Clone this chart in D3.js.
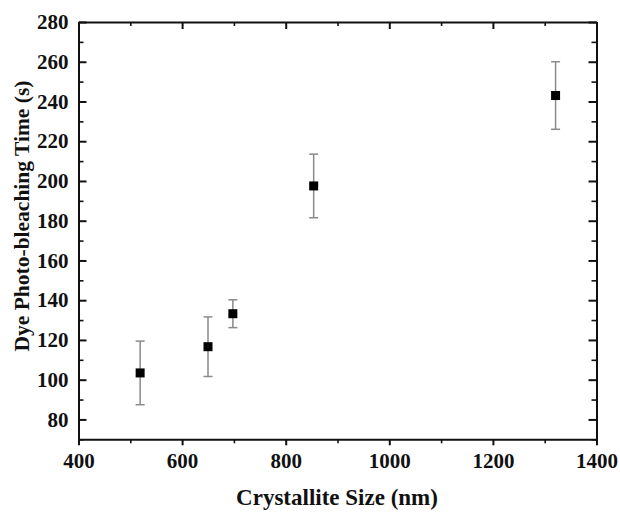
<!DOCTYPE html>
<html lang="en">
<head>
<meta charset="utf-8">
<title>Dye photo-bleaching time vs crystallite size</title>
<style>
body { margin: 0; background: #fff; }
.axis text { font-family: "Liberation Serif", "Times New Roman", serif; font-weight: bold; font-size: 21px; fill: #111; }
.axis path, .axis line { stroke: #111; stroke-width: 2; }
.minor line { stroke-width: 1.6; }
.label { font-family: "Liberation Serif", "Times New Roman", serif; font-weight: bold; fill: #111; }
</style>
</head>
<body>
<div id="chart"></div>
<script src="https://d3js.org/d3.v7.min.js"></script>
<script>
  // data
  var sizes = [519, 650, 698, 854, 1321];
  var times = [103.4, 116.6, 133.2, 197.5, 243];
  var errs  = [16, 15, 7, 16, 17];

  var xTicks = [400, 600, 800, 1000, 1200, 1400];
  var yTicks = [80, 100, 120, 140, 160, 180, 200, 220, 240, 260, 280];

  var W = 620, H = 513;
  var mLeft = 78.5, mRight = 596.5, mTop = 22, mBottom = 439.3;

  var svg = d3.select("#chart").append("svg")
    .attr("width", W).attr("height", H);

  var x = d3.scaleLinear().domain([400, 1400]).range([mLeft, mRight]);
  var y = d3.scaleLinear().domain([70, 280]).range([mBottom, mTop]);

  var xMinor = d3.range(500, 1400, 200);
  var yMinor = d3.range(70, 280, 20);
  var fmt = d3.format("d");

  // bottom axis (ticks outward)
  svg.append("g").attr("class", "axis")
    .attr("transform", "translate(0," + mBottom + ")")
    .call(d3.axisBottom(x).tickValues(xTicks).tickFormat(fmt).tickSizeInner(6).tickSizeOuter(0).tickPadding(8));
  svg.append("g").attr("class", "axis minor")
    .attr("transform", "translate(0," + mBottom + ")")
    .call(d3.axisBottom(x).tickValues(xMinor).tickSize(4).tickFormat(""))
    .select(".domain").remove();

  // top axis (ticks inward)
  svg.append("g").attr("class", "axis")
    .attr("transform", "translate(0," + mTop + ")")
    .call(d3.axisTop(x).tickValues(xTicks).tickSizeInner(-7).tickSizeOuter(0).tickFormat(""));
  svg.append("g").attr("class", "axis minor")
    .attr("transform", "translate(0," + mTop + ")")
    .call(d3.axisTop(x).tickValues(xMinor).tickSize(-4).tickFormat(""))
    .select(".domain").remove();

  // left axis (ticks inward)
  svg.append("g").attr("class", "axis")
    .attr("transform", "translate(" + mLeft + ",0)")
    .call(d3.axisLeft(y).tickValues(yTicks).tickFormat(fmt).tickSizeInner(-8).tickSizeOuter(0).tickPadding(10));
  svg.append("g").attr("class", "axis minor")
    .attr("transform", "translate(" + mLeft + ",0)")
    .call(d3.axisLeft(y).tickValues(yMinor).tickSize(-5).tickFormat(""))
    .select(".domain").remove();

  // right axis (ticks inward)
  svg.append("g").attr("class", "axis")
    .attr("transform", "translate(" + mRight + ",0)")
    .call(d3.axisRight(y).tickValues(yTicks).tickSizeInner(-8).tickSizeOuter(0).tickFormat(""));
  svg.append("g").attr("class", "axis minor")
    .attr("transform", "translate(" + mRight + ",0)")
    .call(d3.axisRight(y).tickValues(yMinor).tickSize(-5).tickFormat(""))
    .select(".domain").remove();

  var data = sizes.map(function(s, i) { return { x: s, y: times[i], e: errs[i] }; });

  // error bars
  var eb = svg.append("g").attr("stroke", "#8a8a8a").attr("stroke-width", 1.5);
  eb.selectAll(".v").data(data).enter().append("line")
    .attr("x1", function(d) { return x(d.x); })
    .attr("x2", function(d) { return x(d.x); })
    .attr("y1", function(d) { return y(d.y - d.e); })
    .attr("y2", function(d) { return y(d.y + d.e); });
  [-1, 1].forEach(function(sgn) {
    eb.selectAll(".c" + sgn).data(data).enter().append("line")
      .attr("x1", function(d) { return x(d.x) - 4.5; })
      .attr("x2", function(d) { return x(d.x) + 4.5; })
      .attr("y1", function(d) { return y(d.y + sgn * d.e); })
      .attr("y2", function(d) { return y(d.y + sgn * d.e); });
  });

  // markers
  svg.selectAll(".pt").data(data).enter().append("rect")
    .attr("x", function(d) { return x(d.x) - 4.5; })
    .attr("y", function(d) { return y(d.y) - 4.5; })
    .attr("width", 9).attr("height", 9)
    .attr("fill", "#000");

  svg.append("text").attr("class", "label")
    .attr("x", 337).attr("y", 505)
    .attr("text-anchor", "middle")
    .style("font-size", "23px")
    .text("Crystallite Size (nm)");

  svg.append("text").attr("class", "label")
    .attr("transform", "translate(29," + 216 + ") rotate(-90)")
    .attr("text-anchor", "middle")
    .style("font-size", "21.5px")
    .text("Dye Photo-bleaching Time (s)");
</script>
</body>
</html>
